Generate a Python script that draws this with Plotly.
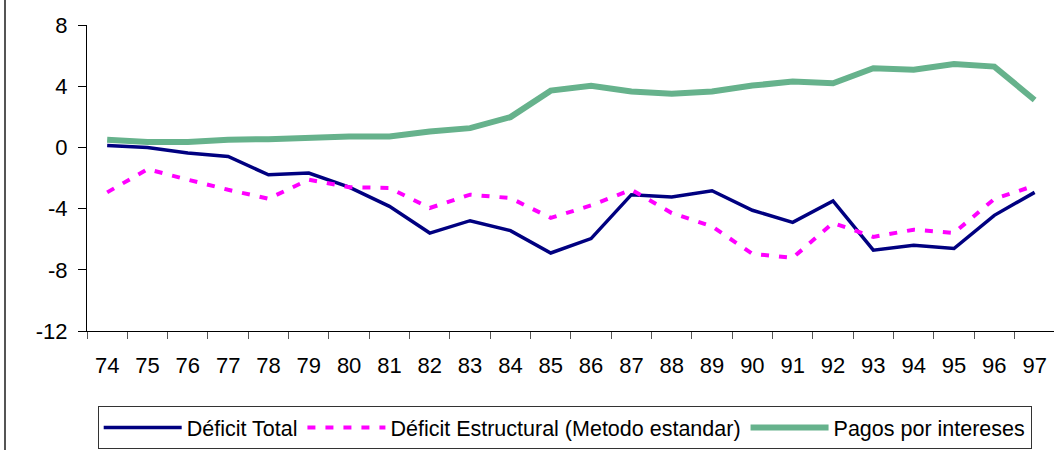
import plotly.graph_objects as go

years = ["74", "75", "76", "77", "78", "79", "80", "81", "82", "83", "84", "85",
         "86", "87", "88", "89", "90", "91", "92", "93", "94", "95", "96", "97"]
deficit_total = [0.12, 0.0, -0.37, -0.59, -1.79, -1.68, -2.6, -3.85, -5.6, -4.79, -5.44, -6.9,
                 -5.96, -3.09, -3.24, -2.83, -4.11, -4.9, -3.5, -6.72, -6.4, -6.61, -4.44, -2.94]
deficit_estructural = [-2.94, -1.42, -2.11, -2.77, -3.35, -2.11, -2.6, -2.65, -3.96, -3.09, -3.31, -4.61,
                       -3.79, -2.77, -4.29, -5.16, -6.96, -7.22, -4.94, -5.85, -5.38, -5.59, -3.37, -2.5]
pagos_intereses = [0.5, 0.35, 0.35, 0.5, 0.54, 0.65, 0.71, 0.71, 1.04, 1.26, 1.98, 3.71,
                   4.02, 3.65, 3.5, 3.65, 4.04, 4.3, 4.19, 5.17, 5.08, 5.45, 5.28, 3.1]
y_ticks = [8, 4, 0, -4, -8, -12]
y_tick_labels = ["8", "4", "0", "-4", "-8", "-12"]

FONT = "Liberation Sans, Arial, sans-serif"

fig = go.Figure()
fig.add_trace(go.Scatter(x=years, y=deficit_total, mode="lines", name="Déficit Total",
                         line=dict(color="#000080", width=3.5)))
fig.add_trace(go.Scatter(x=years, y=deficit_estructural, mode="lines",
                         name="Déficit Estructural (Metodo estandar)",
                         line=dict(color="#FF00FF", width=4, dash="8px,10px")))
fig.add_trace(go.Scatter(x=years, y=pagos_intereses, mode="lines", name="Pagos por intereses",
                         line=dict(color="#66B28C", width=6)))

fig.update_layout(
    width=1054, height=450,
    margin=dict(l=87, r=0, t=25, b=119, autoexpand=False),
    paper_bgcolor="white", plot_bgcolor="white",
    font=dict(family=FONT, size=22, color="black"),
    showlegend=True,
    legend=dict(orientation="h", x=0.494, xanchor="center", y=-0.386, yanchor="bottom",
                bordercolor="#333333", borderwidth=1, font=dict(size=21.5, family=FONT),
                bgcolor="white", traceorder="normal", itemwidth=78, tracegroupgap=0),
    xaxis=dict(type="category", range=[-0.5, 23.48], showgrid=False, zeroline=False,
               showline=True, linecolor="black", linewidth=1, automargin=False,
               ticks="outside", ticklen=7, tickcolor="#555555", tickson="boundaries",
               tickfont=dict(size=22, family=FONT), ticklabelstandoff=15),
    yaxis=dict(range=[-12, 8], tickvals=y_ticks, ticktext=y_tick_labels, showgrid=False,
               zeroline=False, automargin=False,
               showline=True, linecolor="black", linewidth=1,
               ticks="outside", ticklen=8, tickcolor="black",
               tickfont=dict(size=22, family=FONT), ticklabelstandoff=6),
    shapes=[dict(type="line", xref="paper", yref="paper", x0=-0.0848, x1=-0.0848,
                 y0=-0.4, y1=1.1, line=dict(color="#555555", width=2))],
)

fig.write_html("out.html", config={"displayModeBar": False},
               post_script="document.body.style.margin='0';document.body.style.overflow='hidden';")
